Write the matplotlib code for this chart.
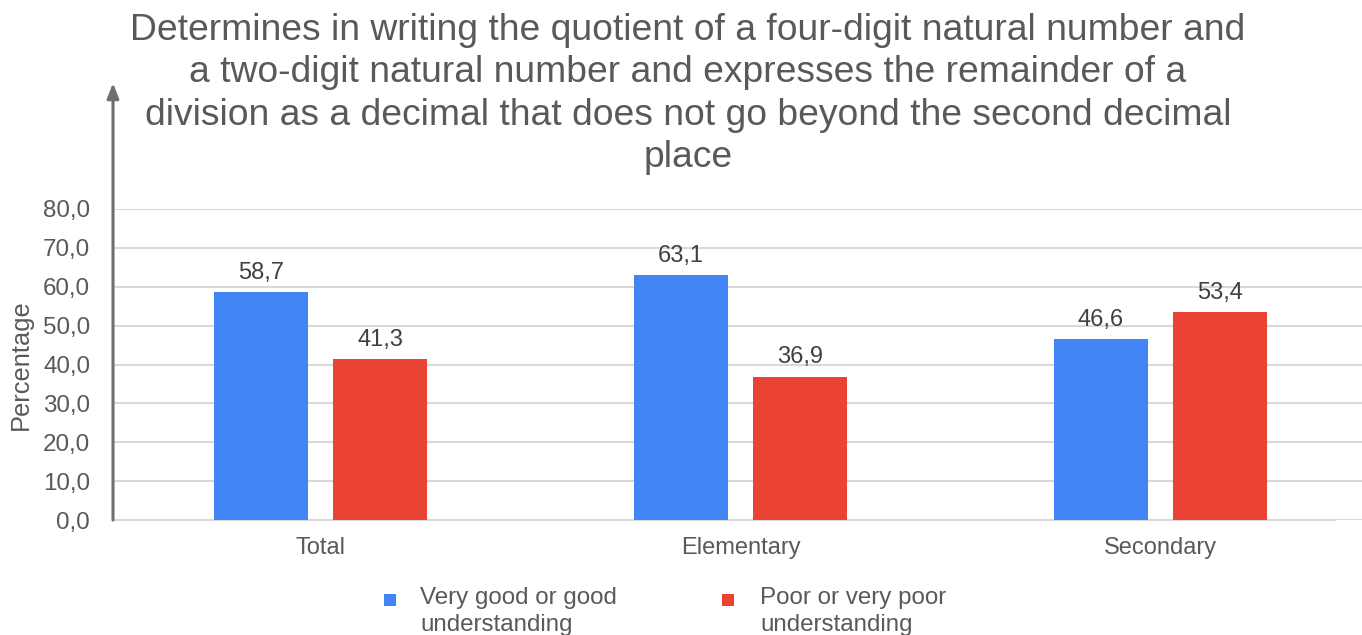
import matplotlib
matplotlib.use("Agg")
import matplotlib.pyplot as plt
import numpy as np
from matplotlib.patches import Rectangle

plt.rcParams['font.family'] = ['Liberation Sans', 'DejaVu Sans']

title = ("Determines in writing the quotient of a four-digit natural number and\n"
         "a two-digit natural number and expresses the remainder of a\n"
         "division as a decimal that does not go beyond the second decimal\n"
         "place")
categories = ["Total", "Elementary", "Secondary"]
series_names = ["Very good or good\nunderstanding", "Poor or very poor\nunderstanding"]
good = [58.7, 63.1, 46.6]
poor = [41.3, 36.9, 53.4]
yticks = [0, 10, 20, 30, 40, 50, 60, 70, 80]
ytick_labels = ["0,0", "10,0", "20,0", "30,0", "40,0", "50,0", "60,0", "70,0", "80,0"]

blue = "#4285F4"
red = "#EA4335"
txt = "#595959"

W, H = 1362, 635
fig = plt.figure(figsize=(W / 100, H / 100), dpi=100)
left, right, top, bottom = 113, 1362, 209, 520
ax = fig.add_axes([left / W, 1 - bottom / H, (right - left) / W, (bottom - top) / H])

x = np.arange(len(categories))
bw = 0.224
off = 0.1417
b1 = ax.bar(x - off, good, bw, color=blue, zorder=3)
b2 = ax.bar(x + off, poor, bw, color=red, zorder=3)

for bars, vals in ((b1, good), (b2, poor)):
    for r, v in zip(bars, vals):
        ax.annotate(f"{v:.1f}".replace(".", ","), (r.get_x() + r.get_width() / 2, v),
                    xytext=(0, 9.5), textcoords="offset points", ha="center", va="baseline",
                    fontsize=17, color="#404040")

ax.set_xlim(-0.495, 2.48)
ax.set_ylim(0, 80)
ax.set_yticks(yticks)
ax.set_yticklabels(ytick_labels, fontsize=17.4, color=txt)
ax.set_xticks(x)
ax.set_xticklabels(categories, fontsize=17, color=txt)
ax.tick_params(axis="both", length=0)
ax.tick_params(axis="y", pad=16.5)
ax.tick_params(axis="x", pad=12.5)
ax.grid(axis="y", color="#d9d9d9", linewidth=1.5, zorder=0)
for s in ["top", "right", "left"]:
    ax.spines[s].set_visible(False)
ax.spines["bottom"].set_color("#d9d9d9")
ax.spines["bottom"].set_linewidth(1.5)
ax.spines["bottom"].set_bounds(-0.495, 2.415)

# y axis arrow
ax.annotate("", xy=(0, (bottom - 83) / (bottom - top)), xytext=(0, 0),
            xycoords="axes fraction", textcoords="axes fraction",
            arrowprops=dict(arrowstyle="-|>,head_length=0.9,head_width=0.35",
                            color="#6f6f6f", lw=2.2, shrinkA=0, shrinkB=0),
            annotation_clip=False, zorder=5)

ax.set_ylabel("Percentage", fontsize=18.3, color=txt)
ax.yaxis.set_label_coords(-80 / (right - left), 0.5)

fig.text(688 / W, 1 - 13 / H, title, ha="center", va="top", fontsize=26.8, color=txt,
         linespacing=1.27)

# legend
leg_items = [(384, 420, blue, series_names[0]), (722, 760, red, series_names[1])]
for sx, tx, col, lab in leg_items:
    fig.patches.append(Rectangle((sx / W, 1 - 606 / H), 12 / W, 12 / H, transform=fig.transFigure,
                                 facecolor=col, edgecolor="none"))
    fig.text(tx / W, 1 - 587 / H, lab, ha="left", va="top", fontsize=17.4, color=txt,
             linespacing=1.32)

fig.savefig("out.png", dpi=100)
